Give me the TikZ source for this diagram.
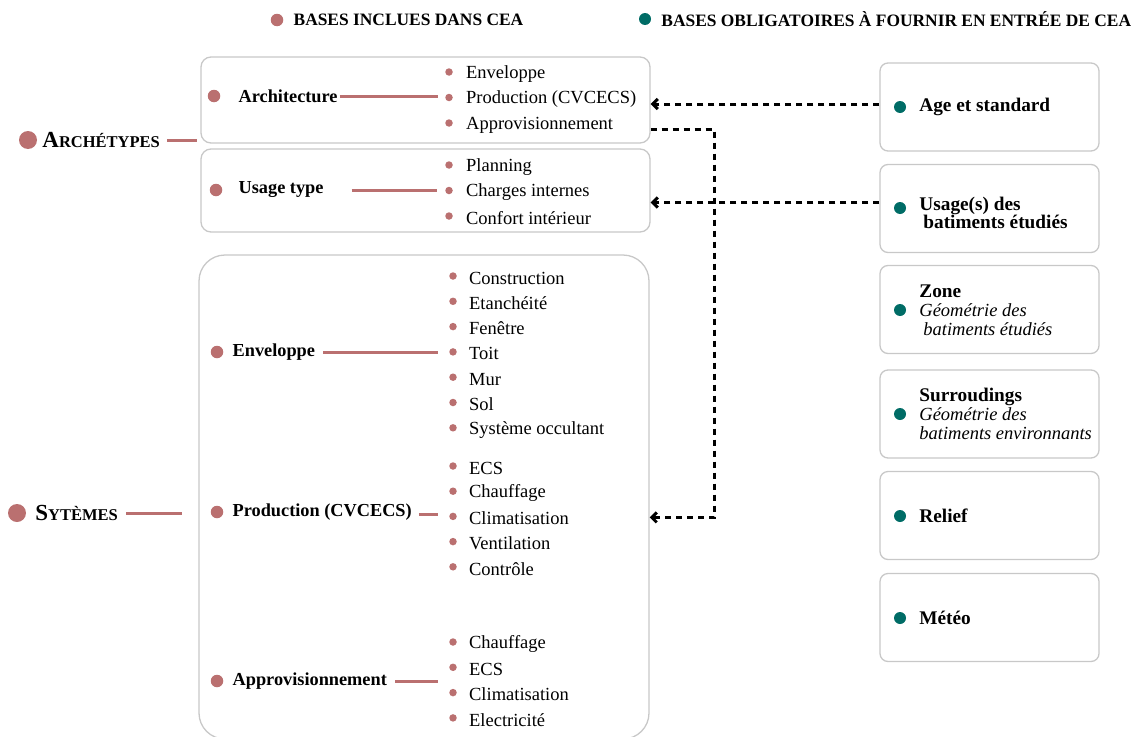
\documentclass[tikz,border=0pt]{standalone}
\usepackage{fontspec}
\setmainfont{Liberation Serif}
\usetikzlibrary{arrows.meta,positioning,calc}

\definecolor{rose}{RGB}{186,112,112}
\definecolor{sarcelle}{RGB}{0,108,102}
\definecolor{gris}{RGB}{200,200,200}

\tikzset{
  cadre/.style={draw=gris,line width=1.3pt,inner sep=0pt},
  pt/.style={circle,fill=rose,inner sep=0pt,minimum size=7.5pt},
  ptm/.style={circle,fill=rose,inner sep=0pt,minimum size=12.5pt},
  ptg/.style={circle,fill=rose,inner sep=0pt,minimum size=18pt},
  ptv/.style={circle,fill=sarcelle,inner sep=0pt,minimum size=12pt},
  elem/.style={anchor=west,inner sep=0pt,yshift=-2pt,font=\fontsize{18.5}{20}\selectfont},
  titre/.style={anchor=west,inner sep=0pt,font=\fontsize{18.3}{20}\selectfont\bfseries},
  grand/.style={anchor=west,inner sep=0pt,font=\fontsize{16.5}{20}\selectfont\bfseries},
  legende/.style={anchor=west,inner sep=0pt,font=\fontsize{17.4}{18}\selectfont\bfseries},
  droite/.style={anchor=west,inner sep=0pt,align=left,font=\fontsize{18.5}{19}\selectfont},
  lien/.style={draw=rose,line width=3pt},
  dep/.style={draw=black,line width=3pt,dash pattern=on 6pt off 5pt,-{Straight Barb[length=5pt,width=10pt]}},
}

\begin{document}
\begin{tikzpicture}[x=1pt,y=-1pt]
\useasboundingbox (0,0) rectangle (1145,736);

% legende
\node[ptm] (lr) at (277,20) {};
\node[legende,right=10pt of lr] {BASES INCLUES DANS CEA};
\node[ptv] (lv) at (645,19) {};
\node[legende,right=10pt of lv] {BASES OBLIGATOIRES À FOURNIR EN ENTRÉE DE CEA};

% cadres
\node[cadre,rounded corners=10pt,minimum width=449pt,minimum height=86pt] (archbox) at (425.5,100) {};
\node[cadre,rounded corners=10pt,minimum width=449pt,minimum height=83pt] (usagebox) at (425.5,190.5) {};
\node[cadre,rounded corners=26pt,minimum width=450pt,minimum height=484pt] (sysbox) at (424,497) {};

% archetypes
\node[ptg] (dA) at (28,140) {};
\node[grand,right=5pt of dA] (archet) {{\fontsize{23}{22}\selectfont A}RCHÉTYPES};
\draw[lien] ([xshift=7pt]archet.east) -- ([xshift=-3pt]archbox.west |- archet);

\node[ptg] (dS) at (17,513) {};
\node[grand,right=9pt of dS] (syst) {{\fontsize{23}{22}\selectfont S}YTÈMES};
\draw[lien] ([xshift=8pt]syst.east) -- ([xshift=-16pt]sysbox.west |- syst);

% architecture
\node[ptm] (dar) at (214,96) {};
\node[titre,right=18pt of dar] (arch) {Architecture};
\foreach \t [count=\i] in {Enveloppe,Production (CVCECS),Approvisionnement} {
  \node[pt] (a\i) at (449,{72+25.5*(\i-1)}) {};
  \node[elem,right=13pt of a\i] {\t};
}
\draw[lien] ([xshift=2pt]arch.east) -- ([xshift=-7pt]a2.west |- arch);

% usage type
\node[ptm] (dus) at (216,190) {};
\node[titre,right=16pt of dus] (usage) {Usage type};
\foreach \t [count=\i] in {Planning,Charges internes,Confort intérieur} {
  \node[pt] (u\i) at (449,{165+25.5*(\i-1)}) {};
  \node[elem,right=13pt of u\i] {\t};
}
\draw[lien] ([xshift=28pt]usage.east) -- ([xshift=-8pt]u2.west |- usage);

% enveloppe
\node[ptm] (den) at (217,352) {};
\node[titre,right=9pt of den] (env) {Enveloppe};
\foreach \t [count=\i] in {Construction,Etanchéité,Fenêtre,Toit,Mur,Sol,Système occultant} {
  \node[pt] (e\i) at (453,{276+25.3*(\i-1)}) {};
  \node[elem,right=12pt of e\i] {\t};
}
\draw[lien] ([xshift=8pt]env.east) -- ([xshift=-11pt]e4.west |- env);

% production
\node[ptm] (dpr) at (217,512) {};
\node[titre,right=9pt of dpr] (prod) {Production (CVCECS)};
\foreach \t [count=\i] in {ECS,Chauffage,Climatisation,Ventilation,Contrôle} {
  \node[pt] (p\i) at (453,{466+25.2*(\i-1)}) {};
  \node[elem,right=12pt of p\i] {\t};
}
\draw[lien] ([xshift=7pt,yshift=-2pt]prod.east) -- ([xshift=-11pt,yshift=-2pt]p3.west |- prod);

% approvisionnement
\node[ptm] (dap) at (217,681) {};
\node[titre,right=9pt of dap] (appro) {Approvisionnement};
\foreach \t [count=\i] in {Chauffage,ECS,Climatisation,Electricité} {
  \node[pt] (q\i) at (453,{642+25.3*(\i-1)}) {};
  \node[elem,right=12pt of q\i] {\t};
}
\draw[lien] ([xshift=8pt]appro.east) -- ([xshift=-11pt]q2.west |- appro);

% bases a fournir
\foreach \y [count=\i] in {107,208.5,309.5,414,515.5,617.5}
  \node[cadre,rounded corners=8pt,minimum width=219pt,minimum height=88pt] (r\i) at (989.5,\y) {};
\node[ptv] (v1) at (900,107) {};
\node[droite,font=\fontsize{19.3}{19}\selectfont\bfseries,right=13pt of v1] {Age et standard};
\node[ptv] (v2) at (900,208) {};
\node[droite,font=\fontsize{19.3}{18.5}\selectfont\bfseries,right=13pt of v2,yshift=-5pt] {Usage(s) des\\\hspace*{4pt}batiments étudiés};
\node[ptv] (v3) at (900,310) {};
\node[droite,right=13pt of v3] {\textbf{\fontsize{19.3}{19}\selectfont Zone}\\\textit{Géométrie des}\\\hspace*{4pt}\textit{batiments étudiés}};
\node[ptv] (v4) at (900,414) {};
\node[droite,right=13pt of v4] {\textbf{\fontsize{19.3}{19}\selectfont Surroudings}\\\textit{Géométrie des}\\\textit{batiments environnants}};
\node[ptv] (v5) at (900,516) {};
\node[droite,font=\fontsize{19.3}{19}\selectfont\bfseries,right=13pt of v5] {Relief};
\node[ptv] (v6) at (900,618) {};
\node[droite,font=\fontsize{19.3}{19}\selectfont\bfseries,right=13pt of v6] {Météo};

% liens pointilles
\coordinate (coude) at (714,129);
\draw[dep] ([yshift=3pt]r1.west) -- ([yshift=3pt]r1.west -| archbox.east);
\draw[dep] ([yshift=6pt]r2.west) -- ([yshift=6pt]r2.west -| usagebox.east);
\draw[dep] (coude -| archbox.east) -- (coude) |- ([yshift=-1pt]p3 -| sysbox.east);
\end{tikzpicture}
\end{document}
